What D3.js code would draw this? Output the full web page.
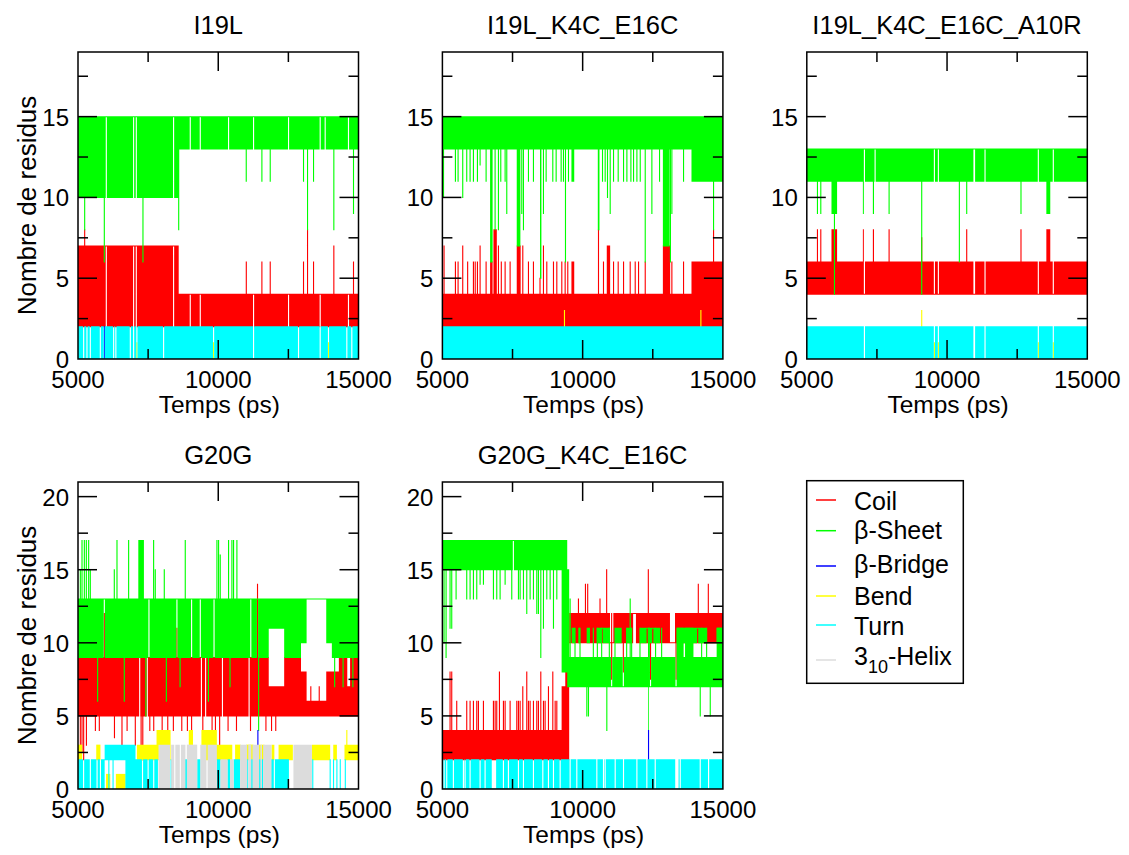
<!DOCTYPE html>
<html>
<head>
<meta charset="utf-8">
<script src="https://cdn.jsdelivr.net/npm/d3@7"></script>
<style>
  html, body { margin: 0; padding: 0; background: #fff; }
  svg text { font-family: "Liberation Sans", Arial, Helvetica, sans-serif; fill: #000; }
</style>
</head>
<body>
<svg id="chart" width="1129" height="855"></svg>
<script>
// ---------------------------------------------------------------------------
// DSSP secondary-structure counts per frame, 5000-15000 ps.
// Each series is a list of envelope pieces, read per time slice:
//   [tStart, tEnd, low, high]  -> the count spans low..high over that interval
//   [t, low, high]             -> a single frame column at time t
// Later pieces take precedence over earlier ones. A series that alternates
// between two separate plateaus is given as two tracks.
// ---------------------------------------------------------------------------
const timeDomain = [5000, 15000];
const xMajorTicks = [5000, 10000, 15000];
const xMinorTicks = [7500, 12500];
const xTickLabels = ["5000", "10000", "15000"];
const yMajorTop = [0, 5, 10, 15];
const yMajorBottom = [0, 5, 10, 15, 20];
const yMinor = [2.5, 7.5, 12.5, 17.5];

const panelTitles = ["I19L", "I19L_K4C_E16C", "I19L_K4C_E16C_A10R", "G20G", "G20G_K4C_E16C"];
const seriesNames = ["Coil", "β-Sheet", "β-Bridge", "Bend", "Turn", "3₁₀-Helix"];

// ---- I19L ----
const i19lCoil = [
  [5000, 8590, 2, 7], [8590, 15000, 2, 4],
  [5238, 2, 8], [11000, 2, 6], [11556, 2, 6], [11853, 2, 6], [13040, 2, 6], [13183, 2, 8],
  [13397, 2, 6], [14121, 2, 7], [14822, 2, 6],
  [6009, 7, 7], [6983, 7, 7], [7078, 7, 7], [8408, 7, 7],
  [9002, 4, 4], [9359, 4, 4], [11259, 4, 4], [12506, 4, 4], [13634, 4, 4], [14643, 4, 4]
];
const i19lSheet = [
  [5000, 8590, 10, 15], [8590, 15000, 13, 15],
  [5238, 8, 15], [5938, 6, 15], [7316, 6, 15], [8590, 8, 15],
  [10998, 11, 15], [11556, 11, 15], [11853, 11, 15], [13040, 11, 15], [13183, 8, 15],
  [13397, 11, 15], [14121, 8, 15], [14822, 9, 15],
  [6009, 15, 15], [6983, 15, 15], [7078, 15, 15], [8408, 15, 15],
  [9002, 15, 15], [9359, 15, 15], [10368, 15, 15], [11259, 15, 15], [12506, 15, 15],
  [13634, 15, 15], [13812, 15, 15], [14643, 15, 15]
];
const i19lBridge = [[5938, 0, 2]];
const i19lBend = [[7100, 0, 1], [9834, 0, 1], [13930, 0, 1]];
const i19lTurn = [
  [5000, 15000, 0, 2],
  [5202, 0, 0], [5320, 0, 0], [5439, 0, 0], [5796, 0, 0], [5938, 0, 0], [6271, 0, 0],
  [6350, 0, 0], [6865, 0, 0], [6983, 0, 0], [7100, 0, 0], [8052, 0, 0], [9834, 0, 0],
  [11259, 0, 0], [12862, 0, 0], [13634, 0, 0], [13930, 0, 0], [14584, 0, 0], [14762, 0, 0]
];
const i19lHelix = [];

// ---- I19L_K4C_E16C ----
const k4cCoil = [
  [5000, 14311, 2, 4], [13880, 15000, 2, 6],
  [5059, 2, 7], [5464, 2, 6], [5559, 2, 6], [5725, 2, 7], [5900, 2, 6], [6106, 2, 6],
  [6170, 2, 6], [6249, 2, 6], [6344, 2, 7], [6558, 2, 6], [6700, 6790, 2, 6],
  [6820, 6940, 2, 8], [6998, 2, 7], [7100, 2, 6], [7236, 2, 6], [7414, 2, 6],
  [7650, 7790, 2, 7], [7866, 2, 7], [8068, 2, 6], [8246, 2, 6], [8480, 2, 5], [8603, 2, 7],
  [8722, 2, 6], [8960, 2, 6], [9079, 2, 6], [9257, 2, 6], [9376, 2, 6], [9470, 2, 6],
  [9600, 9700, 2, 6], [10565, 2, 8], [10743, 2, 6], [10860, 10980, 2, 7], [11101, 2, 6],
  [11267, 2, 6], [11458, 2, 6], [11695, 2, 6], [11874, 2, 6], [11993, 2, 6], [12231, 2, 6],
  [12860, 13120, 2, 7], [13181, 2, 6], [13597, 2, 6], [14667, 2, 8]
];
const k4cSheet = [
  [5000, 14311, 13, 15], [13880, 15000, 11, 15],
  [5040, 10, 15], [5464, 11, 15], [5559, 11, 15], [5725, 10, 15], [5868, 11, 15],
  [5987, 11, 15], [6106, 11, 15], [6249, 11, 15], [6344, 12, 15], [6558, 11, 15],
  [6700, 6790, 6, 15], [6879, 8, 15], [6998, 8, 15], [7081, 11, 15], [7236, 11, 15],
  [7295, 9, 15], [7650, 7780, 7, 15], [7830, 9, 15], [7890, 8, 15], [8068, 11, 15],
  [8246, 11, 15], [8480, 8530, 5, 15], [8603, 9, 15], [8698, 11, 15], [8936, 11, 15],
  [9055, 11, 15], [9233, 11, 15], [9316, 11, 15], [9388, 6, 15], [9495, 11, 15],
  [9600, 9700, 11, 15], [10540, 10600, 8, 15], [10708, 11, 15], [10803, 11, 15],
  [10886, 10, 15], [10982, 9, 15], [11101, 11, 15], [11267, 11, 15], [11458, 11, 15],
  [11577, 11, 15], [11720, 11, 15], [11815, 11, 15], [11934, 11, 15], [12053, 11, 15],
  [12231, 6, 15], [12468, 9, 15], [12741, 11, 15], [12860, 13100, 7, 15], [13130, 6, 15],
  [13181, 9, 15], [13597, 11, 15], [14667, 8, 15]
];
const k4cBridge = [];
const k4cBend = [[9352, 2, 3], [14215, 2, 3]];
const k4cTurn = [[5000, 15000, 0, 2]];
const k4cHelix = [];

// ---- I19L_K4C_E16C_A10R ----
const a10rCoil = [
  [5000, 15000, 4, 6],
  [5380, 4, 8], [5499, 4, 8], [5880, 6080, 4, 8], [7019, 4, 8], [7375, 4, 8], [7934, 4, 8],
  [9097, 4, 7.5], [10701, 4, 8], [12636, 4, 8], [13540, 13680, 4, 8],
  [7054, 4, 4], [9549, 4, 4], [9691, 4, 4], [10940, 11000, 4, 4], [11354, 4, 4],
  [13254, 4, 4], [13788, 4, 4]
];
const a10rSheet = [
  [5000, 15000, 11, 13],
  [5380, 9, 13], [5499, 9, 13], [5880, 6080, 9, 13], [5986, 4, 13], [7019, 9, 13],
  [7375, 9, 13], [7934, 9, 13], [9097, 4, 13], [10439, 6, 13], [10701, 9, 13],
  [12636, 9, 13], [13540, 13680, 9, 13],
  [7054, 13, 13], [7435, 13, 13], [9549, 13, 13], [9691, 13, 13], [10940, 11000, 13, 13],
  [11354, 13, 13], [13254, 13, 13], [13788, 13, 13]
];
const a10rBridge = [];
const a10rBend = [[9097, 2, 3], [9549, 0, 1], [9691, 0, 1], [13254, 0, 1], [13788, 0, 1]];
const a10rTurn = [
  [5000, 15000, 0, 2],
  [7054, 0, 0], [9549, 0, 0], [9691, 0, 0], [10940, 11000, 0, 0], [11354, 0, 0],
  [13254, 0, 0], [13788, 0, 0]
];
const a10rHelix = [];

// ---- G20G ----
const g20gCoil = [
  [5000, 11800, 5, 9], [11800, 12350, 5, 7], [12350, 12950, 5, 9], [12950, 13150, 5, 8],
  [13150, 13850, 5, 6], [13850, 14300, 5, 8], [14300, 15000, 5, 9],
  [14600, 14700, 5, 7], [13300, 5, 7], [13600, 5, 7],
  [5083, 2, 9], [5143, 2.5, 9], [5202, 2, 9], [5300, 3, 9], [5620, 4, 9], [5760, 4, 9],
  [6300, 3.5, 9], [6568, 3, 9], [6750, 4, 9], [7043, 3, 9], [7250, 2, 9], [7310, 2, 9],
  [7560, 4, 9], [7700, 4, 9], [8000, 4, 9], [8200, 4, 9], [8400, 4, 9], [8700, 4, 9],
  [8900, 4, 9], [9050, 4, 9], [9450, 3.5, 9], [9780, 3, 9], [9900, 3, 9], [10050, 3, 9],
  [10350, 4, 9], [10650, 4, 9], [11150, 4, 9], [11700, 4, 9], [11900, 4, 7], [12050, 4, 7],
  [5938, 5, 12], [5990, 5, 10], [8527, 5, 11], [11400, 5, 14],
  [7200, 9, 9], [7470, 9, 9], [9400, 9, 9], [9550, 9, 9], [10150, 9, 9], [11100, 9, 9]
];
const g20gSheet = [
  [5000, 11800, 9, 13], [11800, 12350, 11, 13], [12350, 12950, 9, 13], [12950, 13150, 10, 13],
  [13150, 13850, 13, 13], [13850, 14050, 10, 13], [14050, 15000, 9, 13],
  [5083, 9, 15], [5143, 9, 17], [5226, 9, 17], [5297, 9, 17], [5380, 9, 17], [5439, 9, 15],
  [6294, 9, 15], [6390, 9, 17], [6805, 9, 17], [7150, 7350, 9, 17], [7696, 9, 17],
  [7755, 9, 15], [8076, 9, 15], [8824, 9, 17], [9953, 9, 17], [10012, 9, 17], [10071, 9, 16],
  [10368, 9, 17], [10487, 9, 17], [10546, 9, 17], [10665, 9, 17],
  [5700, 6, 13], [6650, 6, 13], [7420, 5, 13], [8150, 6, 13], [8640, 7, 13], [9650, 6, 13],
  [10420, 7, 13], [11440, 4, 13], [14150, 7, 13], [14450, 7, 13], [14800, 7, 13],
  [5938, 13, 13], [7530, 13, 13], [8527, 13, 13], [9050, 13, 13], [9360, 13, 13],
  [9850, 13, 13], [11160, 13, 13], [11400, 13, 13]
];
const g20gBridge = [[11413, 3, 4]];
const g20gBend = [
  [5000, 5150, 2, 3], [5650, 5800, 2, 3], [6000, 6150, 0, 1], [6350, 6700, 0, 1],
  [7100, 7800, 2, 3], [7800, 8300, 2, 4], [8950, 9100, 2, 4], [9400, 9950, 2, 4],
  [9950, 10500, 2, 3], [10600, 10800, 2, 3], [11000, 11250, 2, 3], [11450, 11650, 2, 3],
  [11900, 12000, 2, 3], [12150, 12660, 2, 3], [13340, 13990, 2, 3], [14100, 14230, 2, 3],
  [14500, 15000, 2, 3], [14584, 2, 4]
];
const g20gTurn = [
  [5000, 5950, 0, 2], [5950, 6690, 2, 3], [6690, 7050, 0, 3], [7050, 7850, 0, 2],
  [6100, 0, 3], [6250, 0, 3],
  [8300, 8400, 0, 2], [8500, 8600, 0, 2], [8780, 8900, 0, 2], [9250, 9370, 0, 2],
  [9950, 10080, 0, 2], [10330, 10420, 0, 2], [10550, 10780, 0, 2], [11050, 0, 2],
  [11140, 11260, 0, 2], [11380, 11600, 0, 2], [11860, 12520, 0, 2],
  [13370, 0, 2], [13990, 0, 2], [14110, 0, 2], [14230, 0, 2], [14350, 0, 2], [14530, 0, 2],
  [5200, 0, 0], [5440, 0, 0], [5680, 0, 0], [5800, 0, 0], [7300, 0, 0], [7500, 0, 0],
  [7700, 0, 0], [12000, 0, 0]
];
const g20gHelix = [
  [7870, 8830, 0, 3], [8880, 9250, 0, 3], [9360, 9950, 0, 3], [10080, 10330, 0, 2],
  [10420, 10550, 0, 2], [10780, 11900, 0, 3], [12680, 13340, 0, 3],
  [8300, 0, 0], [8450, 0, 0], [8650, 0, 0], [9600, 0, 0], [11050, 0, 0], [11200, 0, 0],
  [11480, 0, 0], [11580, 0, 0]
];

// ---- G20G_K4C_E16C ----
const g20gK4cCoil = [
  [5000, 9250, 2, 4], [9250, 9380, 2, 7], [9380, 9520, 2, 10], [9520, 15000, 10, 12],
  [5273, 2, 8], [5333, 2, 8], [5511, 2, 6], [5868, 2, 6], [5987, 2, 6], [6106, 2, 6],
  [6225, 2, 6], [6285, 2, 6], [6463, 2, 6], [6819, 2, 6], [6880, 2, 6], [6938, 2, 6],
  [7033, 2, 8], [7176, 2, 6], [7236, 2, 6], [7414, 2, 6], [7652, 2, 6], [7711, 2, 6],
  [7771, 2, 6], [7866, 2, 7], [8008, 2, 8], [8068, 2, 6], [8127, 2, 6], [8246, 2, 6],
  [8365, 2, 6], [8425, 2, 6], [8508, 2, 8], [8603, 2, 6], [8662, 2, 6], [8781, 2, 7],
  [8936, 2, 8], [9020, 2, 6], [9079, 2, 6],
  [9850, 10, 13], [10100, 10, 14], [10180, 10, 14], [10619, 10, 13], [10856, 10, 15],
  [12341, 10, 15], [14123, 10, 14], [14480, 10, 14],
  [10975, 11094, 10, 10], [11800, 11900, 12, 12], [13113, 13292, 10, 10],
  [11034, 7.5, 12], [11450, 8, 12], [12420, 7.5, 12], [13330, 7.5, 12]
];
const g20gK4cSheet = [
  [5000, 9250, 15, 17], [9250, 9450, 8, 17], [9450, 9520, 7, 15], [9520, 15000, 7, 9],
  [5059, 10, 17], [5131, 9, 17], [5273, 11, 17], [5333, 11, 17], [5488, 13, 17],
  [5868, 13, 17], [5987, 13, 17], [6106, 13, 17], [6225, 13, 17], [6344, 14, 17],
  [6463, 14, 17], [6819, 13, 17], [6938, 13, 17], [7057, 13, 17], [7236, 14, 17],
  [7473, 13, 17], [7711, 13, 17], [7771, 13, 17], [7890, 13, 17], [8008, 12, 17],
  [8127, 13, 17], [8246, 13, 17], [8365, 12, 17], [8425, 12, 17], [8508, 9, 17],
  [8603, 11, 17], [8722, 13, 17], [8841, 13, 17], [8960, 11, 17], [9079, 13, 17],
  [7530, 17, 17],
  [9554, 7, 13], [9728, 7, 11], [9906, 7, 11], [10149, 5, 9], [10208, 5, 9],
  [10381, 7, 11], [10524, 7, 11], [10678, 7, 11], [10862, 4, 9], [10951, 7, 11],
  [11153, 7, 11], [11569, 7, 11], [11695, 7, 13], [11747, 7, 11], [12044, 7, 11],
  [12349, 4, 11], [12377, 7, 11], [12600, 7, 11], [12816, 7, 11],
  [13350, 13600, 7, 11], [13650, 13950, 7, 11], [14192, 5, 9], [14242, 7, 11],
  [14420, 7, 11], [14549, 5, 9], [14777, 15000, 7, 11],
  [11034, 7, 7], [11450, 7, 7], [12420, 7, 7], [13330, 7, 7]
];
// second plateau of the β-sheet count after the transition
const g20gK4cSheetUpper = [
  [9609, 9728, 10, 11], [9846, 9906, 10, 11], [10143, 10262, 10, 11], [10500, 10975, 10, 11],
  [11153, 11391, 10, 11], [11569, 11747, 10, 11], [12044, 12757, 10, 11],
  [13351, 14420, 10, 11], [14777, 15000, 10, 11],
  [10700, 11, 11], [12300, 11, 11], [12500, 11, 11], [13800, 11, 11], [14100, 11, 11]
];
const g20gK4cBridge = [[12349, 2, 4]];
const g20gK4cBend = [];
const g20gK4cTurn = [
  [5000, 15000, 0, 2],
  [5059, 0, 0], [5155, 0, 0], [5392, 0, 0], [5749, 0, 0], [5809, 0, 0], [5987, 0, 0],
  [6344, 0, 0], [6522, 0, 0], [6760, 6915, 0, 0], [7176, 0, 0], [7354, 0, 0], [7711, 0, 0],
  [7890, 0, 0], [8246, 0, 0], [8580, 0, 0], [8781, 0, 0], [8960, 0, 0], [9198, 0, 0],
  [9554, 0, 0], [9792, 0, 0], [10506, 0, 0], [10743, 0, 0], [10803, 0, 0], [11160, 0, 0],
  [11457, 0, 0], [11934, 0, 0], [12289, 0, 0], [12587, 0, 0], [13300, 13419, 0, 0],
  [13479, 0, 0], [14192, 0, 0], [14490, 0, 0]
];
const g20gK4cHelix = [];

// tracks per series, per panel (legend order)
const panelSeries = [
  [[i19lCoil], [i19lSheet], [i19lBridge], [i19lBend], [i19lTurn], [i19lHelix]],
  [[k4cCoil], [k4cSheet], [k4cBridge], [k4cBend], [k4cTurn], [k4cHelix]],
  [[a10rCoil], [a10rSheet], [a10rBridge], [a10rBend], [a10rTurn], [a10rHelix]],
  [[g20gCoil], [g20gSheet], [g20gBridge], [g20gBend], [g20gTurn], [g20gHelix]],
  [[g20gK4cCoil], [g20gK4cSheet, g20gK4cSheetUpper], [g20gK4cBridge], [g20gK4cBend], [g20gK4cTurn], [g20gK4cHelix]]
];

// ---------------------------------------------------------------------------
// Styling and layout
// ---------------------------------------------------------------------------
const seriesColors = ["#ff0000", "#00ff00", "#0000ff", "#ffff00", "#00ffff", "#dcdcdc"];
const PLOT_W = 280.5, PLOT_H = 307;
const panelLayout = [
  { left: 78,    top: 52,  yMax: 19, yMajor: yMajorTop,    yLabel: true },
  { left: 442.4, top: 52,  yMax: 19, yMajor: yMajorTop,    yLabel: false },
  { left: 806.8, top: 52,  yMax: 19, yMajor: yMajorTop,    yLabel: false },
  { left: 78,    top: 482, yMax: 21, yMajor: yMajorBottom, yLabel: true },
  { left: 442.4, top: 482, yMax: 21, yMajor: yMajorBottom, yLabel: false }
];
const COL = 40; // width (ps) given to a single-frame column

const svg = d3.select("#chart");
svg.append("rect").attr("width", 1129).attr("height", 855).attr("fill", "#fff");

// Turn a list of envelope pieces into contiguous step runs.
function envelopeRuns(entries) {
  const segs = entries.map(e => e.length === 4
    ? { t0: e[0], t1: e[1], lo: e[2], hi: e[3] }
    : { t0: e[0] - COL / 2, t1: e[0] + COL / 2, lo: e[1], hi: e[2] });
  const clamp = t => Math.max(timeDomain[0], Math.min(timeDomain[1], t));
  const cuts = Array.from(new Set(segs.flatMap(s => [clamp(s.t0), clamp(s.t1)]))).sort((a, b) => a - b);
  const cells = [];
  for (let i = 0; i < cuts.length - 1; i++) {
    const a = cuts[i], b = cuts[i + 1];
    if (b <= a) continue;
    const m = (a + b) / 2;
    let cover = null;
    for (const s of segs) if (s.t0 <= m && m < s.t1) cover = s;
    if (cover) cells.push({ t0: a, t1: b, lo: cover.lo, hi: cover.hi });
  }
  const runs = [];
  let cur = null;
  for (const c of cells) {
    if (cur && cur[cur.length - 1].t1 === c.t0) cur.push(c);
    else { cur = [c]; runs.push(cur); }
  }
  return runs.map(r => {
    const last = r[r.length - 1];
    return r.map(c => ({ t: c.t0, lo: c.lo, hi: c.hi })).concat([{ t: last.t1, lo: last.lo, hi: last.hi }]);
  });
}

panelLayout.forEach((p, pi) => {
  const x = d3.scaleLinear().domain(timeDomain).range([p.left, p.left + PLOT_W]);
  const y = d3.scaleLinear().domain([0, p.yMax]).range([p.top + PLOT_H, p.top]);
  const g = svg.append("g");

  const clipId = "clip" + pi;
  svg.append("clipPath").attr("id", clipId)
    .append("rect").attr("x", p.left).attr("y", p.top).attr("width", PLOT_W).attr("height", PLOT_H);

  const area = d3.area()
    .curve(d3.curveStepAfter)
    .x(d => x(d.t))
    .y0(d => y(d.lo) + 0.5)
    .y1(d => y(d.hi) - 0.5);

  const dataLayer = g.append("g").attr("clip-path", `url(#${clipId})`);
  panelSeries[pi].forEach((tracks, si) => {
    const runs = tracks.flatMap(envelopeRuns);
    dataLayer.append("g")
      .selectAll("path")
      .data(runs)
      .join("path")
      .attr("d", area)
      .attr("fill", seriesColors[si]);
  });

  // frame
  g.append("rect")
    .attr("x", p.left).attr("y", p.top).attr("width", PLOT_W).attr("height", PLOT_H)
    .attr("fill", "none").attr("stroke", "#000").attr("stroke-width", 1.5);

  const ticks = g.append("g").attr("stroke", "#000").attr("stroke-width", 1.5);
  const x0 = p.left, x1 = p.left + PLOT_W, yb = p.top + PLOT_H, yt = p.top;
  const yTickList = p.yMajor.filter(v => v > 0).map(v => ({ v, len: 19 }))
    .concat(yMinor.filter(v => v < p.yMax).map(v => ({ v, len: 10 })));
  yTickList.forEach(t => {
    ticks.append("line").attr("x1", x0).attr("x2", x0 + t.len).attr("y1", y(t.v)).attr("y2", y(t.v));
    ticks.append("line").attr("x1", x1).attr("x2", x1 - t.len).attr("y1", y(t.v)).attr("y2", y(t.v));
  });
  const xTickList = xMajorTicks.filter(v => v > timeDomain[0] && v < timeDomain[1]).map(v => ({ v, len: 19 }))
    .concat(xMinorTicks.map(v => ({ v, len: 10 })));
  xTickList.forEach(t => {
    ticks.append("line").attr("x1", x(t.v)).attr("x2", x(t.v)).attr("y1", yb).attr("y2", yb - t.len);
    ticks.append("line").attr("x1", x(t.v)).attr("x2", x(t.v)).attr("y1", yt).attr("y2", yt + t.len);
  });

  // tick labels
  g.append("g").selectAll("text").data(p.yMajor).join("text")
    .attr("x", x0 - 9).attr("y", d => y(d) + 9)
    .attr("text-anchor", "end").attr("font-size", 24)
    .text(d => d);
  g.append("g").selectAll("text").data(xMajorTicks).join("text")
    .attr("x", d => x(d)).attr("y", yb + 28.5)
    .attr("text-anchor", "middle").attr("font-size", 24)
    .text((d, i) => xTickLabels[i]);

  // axis titles
  g.append("text").attr("x", (x0 + x1) / 2 + 1).attr("y", yb + 53.5)
    .attr("text-anchor", "middle").attr("font-size", 24.5).text("Temps (ps)");
  if (p.yLabel) {
    g.append("text")
      .attr("transform", `translate(35.5,${(yt + yb) / 2}) rotate(-90)`)
      .attr("text-anchor", "middle").attr("font-size", 26).text("Nombre de residus");
  }
  g.append("text").attr("x", (x0 + x1) / 2).attr("y", yt - 18.5)
    .attr("text-anchor", "middle").attr("font-size", 25.5).text(panelTitles[pi]);
});

// legend
const legendRows = [
  { line: 500, base: 510 }, { line: 530.7, base: 539.3 }, { line: 566, base: 573.3 },
  { line: 596, base: 605 }, { line: 625, base: 635 }, { line: 660, base: 665 }
];
const legend = svg.append("g");
legend.append("rect").attr("x", 806.7).attr("y", 480.7).attr("width", 156.6).attr("height", 202.6)
  .attr("fill", "#fff").attr("stroke", "#000").attr("stroke-width", 1.5);
seriesNames.forEach((name, i) => {
  const r = legendRows[i];
  legend.append("line").attr("x1", 816).attr("x2", 836).attr("y1", r.line).attr("y2", r.line)
    .attr("stroke", seriesColors[i]).attr("stroke-width", 1.5);
  const t = legend.append("text").attr("x", 854).attr("y", r.base).attr("font-size", 25);
  if (name.startsWith("3₁₀")) {
    t.append("tspan").text("3");
    t.append("tspan").attr("font-size", 18).attr("dy", 8).text("10");
    t.append("tspan").attr("dy", -8).text("-Helix");
  } else {
    t.text(name);
  }
});
</script>
</body>
</html>
